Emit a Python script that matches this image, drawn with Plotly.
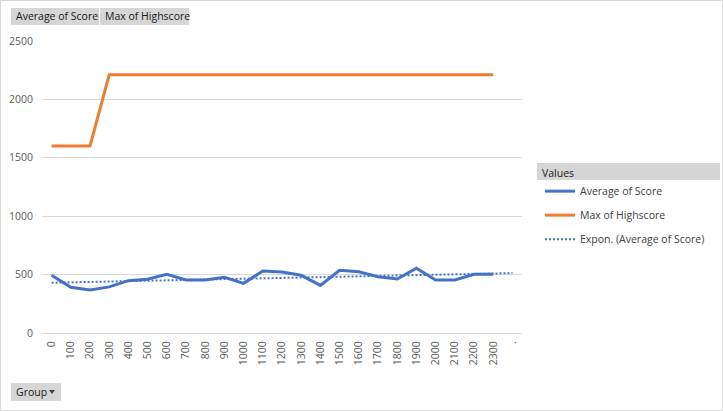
import numpy as np
import plotly.graph_objects as go

# pivot chart data: score group -> values
groups = ["0", "100", "200", "300", "400", "500", "600", "700", "800", "900",
          "1000", "1100", "1200", "1300", "1400", "1500", "1600", "1700", "1800",
          "1900", "2000", "2100", "2200", "2300"]
blank_label = "."
avg_score = [495, 391, 368, 395, 448, 460, 502, 454, 454, 477, 425, 531,
             522, 494, 408, 537, 525, 482, 462, 554, 454, 454, 502, 502]
max_highscore = [1600, 1600, 1600, 2210, 2210, 2210, 2210, 2210, 2210, 2210,
                 2210, 2210, 2210, 2210, 2210, 2210, 2210, 2210, 2210, 2210,
                 2210, 2210, 2210, 2210]
y_ticks = [0, 500, 1000, 1500, 2000, 2500]

cats = groups + [blank_label]

# Excel style exponential trendline over the category index
idx = np.arange(1, len(avg_score) + 1)
b, a = np.polyfit(idx, np.log(avg_score), 1)
trend = np.exp(a + b * np.arange(1, len(cats) + 1))

# plot area in pixels
L, T, W, H = 42, 41, 480, 292
FIG_W, FIG_H = 723, 411


def px(p):
    return (p - L) / W


def py(p):
    return 1 - (p - T) / H


FONT = "Open Sans"
BLUE = "#4472C4"
ORANGE = "#ED7D31"

fig = go.Figure()
fig.add_trace(go.Scatter(x=groups, y=avg_score, mode="lines", name="Average of Score",
                         line=dict(color=BLUE, width=3), legendgroup="a"))
fig.add_trace(go.Scatter(x=groups, y=max_highscore, mode="lines", name="Max of Highscore",
                         line=dict(color=ORANGE, width=3), legendgroup="b"))
fig.add_trace(go.Scatter(x=cats, y=trend, mode="lines", name="Expon. (Average of Score)",
                         line=dict(color=BLUE, width=2, dash="2px,2px"), legendgroup="c"))

shapes = []
annotations = []


def button(x0, x1, y0, y1, text, fs=10.5):
    shapes.append(dict(type="rect", xref="paper", yref="paper",
                       x0=px(x0), x1=px(x1), y0=py(y1), y1=py(y0),
                       fillcolor="#d6d6d6", line=dict(width=0), layer="below"))
    annotations.append(dict(text=text, xref="paper", yref="paper",
                            x=px(x0 + 3), y=py((y0 + y1) / 2), xanchor="left",
                            yanchor="middle", showarrow=False,
                            font=dict(family=FONT, size=fs, color="#1a1a1a")))


button(11, 99, 8, 25, "Average of Score")
button(100, 189, 8, 25, "Max of Highscore")
button(11, 61, 383, 401, "Group")
# dropdown arrow on the Group button
shapes.append(dict(type="path", xref="paper", yref="paper",
                   path="M {} {} L {} {} L {} {} Z".format(px(49), py(390), px(55), py(390),
                                                             px(52), py(394)),
                   fillcolor="#404040", line=dict(width=0)))
# legend header bar
shapes.append(dict(type="rect", xref="paper", yref="paper",
                   x0=px(537), x1=px(720), y0=py(180), y1=py(163),
                   fillcolor="#d6d6d6", line=dict(width=0), layer="below"))
# chart border
shapes.append(dict(type="rect", xref="paper", yref="paper",
                   x0=px(0.5), x1=px(722.5), y0=py(410.5), y1=py(0.5),
                   line=dict(color="#d9d9d9", width=1)))

fig.update_layout(
    width=FIG_W, height=FIG_H,
    margin=dict(l=L, r=FIG_W - L - W, t=T, b=FIG_H - T - H),
    paper_bgcolor="white", plot_bgcolor="white",
    font=dict(family=FONT, size=10.5, color="#595959"),
    showlegend=True,
    legend=dict(x=px(540), y=py(163), xanchor="left", yanchor="top",
                title=dict(text="Values", font=dict(size=10.5, color="#1a1a1a")),
                font=dict(size=10.5, color="#404040"), tracegroupgap=5,
                bgcolor="rgba(0,0,0,0)"),
    shapes=shapes, annotations=annotations,
)
fig.update_xaxes(type="category", categoryorder="array", categoryarray=cats,
                 tickangle=-90, showgrid=False, showline=True, linecolor="#d9d9d9",
                 ticks="", tickfont=dict(size=10.5, color="#595959"), ticklabelstandoff=3,
                 range=[-0.5, len(cats) - 0.5], automargin=False)
fig.update_yaxes(range=[0, 2500], tickvals=y_ticks, showgrid=True, gridcolor="#d9d9d9",
                 zeroline=False, ticks="", tickfont=dict(size=10.5, color="#595959"),
                 ticklabelstandoff=8, automargin=False)

# the page body has a default 8px margin; drop it so the chart sits at the corner
fig.write_html("out.html", config={"displayModeBar": False},
               post_script="document.body.style.margin='0';")
